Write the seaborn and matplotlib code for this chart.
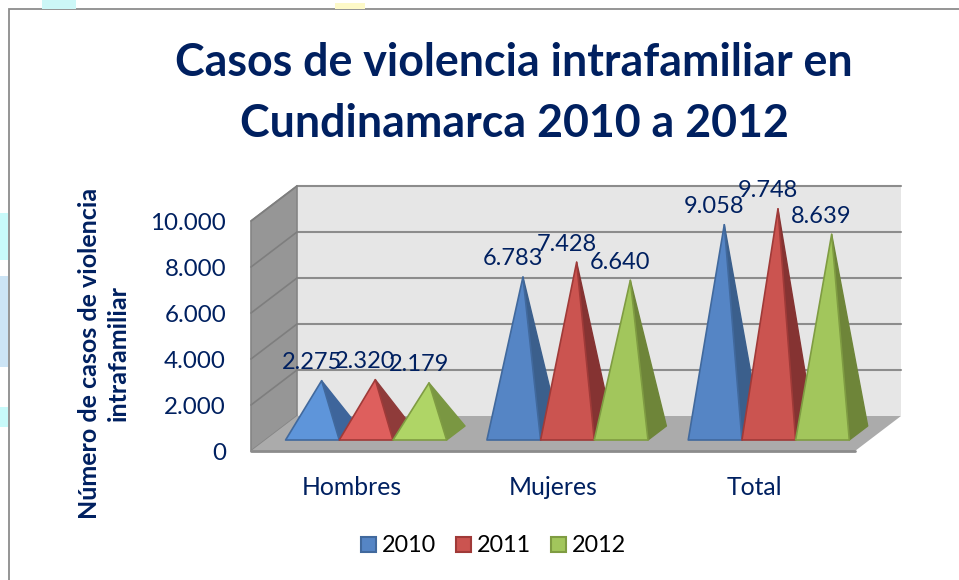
import matplotlib
matplotlib.use("Agg")
import matplotlib.pyplot as plt
import seaborn as sns
import pandas as pd
from matplotlib.patches import Polygon, Patch, Rectangle
from matplotlib.ticker import FuncFormatter

# Data
categories = ["Hombres", "Mujeres", "Total"]
years = ["2010", "2011", "2012"]
casos_2010 = [2275, 6783, 9058]
casos_2011 = [2320, 7428, 9748]
casos_2012 = [2179, 6640, 8639]
y_ticks = [0, 2000, 4000, 6000, 8000, 10000]

front = ["#5585C5", "#CB5450", "#A2C65C"]
side = ["#3B5F8C", "#853332", "#6E8539"]
edge = ["#41699D", "#A03A38", "#7F9C42"]
front_light = ["#5E95DA", "#DE5F5D", "#AFD566"]
side_light = ["#3E659B", "#8F3B3A", "#7A9742"]
navy = "#002060"

df = pd.DataFrame({
    "Grupo": categories * 3,
    "Anio": sum([[y] * 3 for y in years], []),
    "Casos": casos_2010 + casos_2011 + casos_2012,
})

W, H = 959, 580
sns.set_style("white")
plt.rcParams["font.family"] = ["Lato", "DejaVu Sans"]

fig = plt.figure(figsize=(W / 100, H / 100), dpi=100)
# front plane of the 3D box
ax = fig.add_axes([251 / W, 1 - 451 / H, (855 - 251) / W, (451 - 221) / H])

sns.barplot(data=df, x="Grupo", y="Casos", hue="Anio", order=categories,
            hue_order=years, width=0.8, gap=0, legend=False, ax=ax)
ax.set_xlim(-0.5, 2.5)
ax.set_ylim(0, 10000)

# depth of the box in data units
DX = 46 / (604 / 3)
DY = 35 / (230 / 10000)


def pr(x, v, d=0.0):
    return (x + d * DX, v + d * DY)


def poly(pts, color, ec="none", lw=0, z=1):
    ax.add_patch(Polygon(pts, closed=True, facecolor=color, edgecolor=ec,
                         linewidth=lw, clip_on=False, zorder=z, joinstyle="round"))


# walls and floor
x0, x1 = -0.5, 2.5
poly([pr(x0, 0, 1), pr(x1, 0, 1), pr(x1, 10000, 1), pr(x0, 10000, 1)], "#E6E6E6", z=1)
poly([pr(x0, 0), pr(x0, 10000), pr(x0, 10000, 1), pr(x0, 0, 1)], "#969696", "#858585", 1.2, z=2)
poly([pr(x0, 0), pr(x1, 0), pr(x1, 0, 1), pr(x0, 0, 1)], "#ABABAB", z=2)
for t in y_ticks[1:]:
    a, b, c = pr(x0, t), pr(x0, t, 1), pr(x1, t, 1)
    ax.plot([b[0], c[0]], [b[1], c[1]], color="#8C8C8C", lw=1.5, clip_on=False, zorder=1.5)
    ax.plot([a[0], b[0]], [a[1], b[1]], color="#7E7E7E", lw=1.2, clip_on=False, zorder=2.5)
ax.plot([pr(x0, 0)[0], pr(x1, 0)[0]], [0, 0], color="#8C8C8C", lw=2, clip_on=False, zorder=2.5)

# pyramids from the bars seaborn placed
d_front, d_back = 0.314, 0.714
for i, cont in enumerate(ax.containers):
    for j, bar in enumerate(cont):
        xa, w, v = bar.get_x(), bar.get_width(), bar.get_height()
        bar.set_visible(False)
        cf = front_light[i] if j == 0 else front[i]
        cs = side_light[i] if j == 0 else side[i]
        z = 3 + j + i * 0.1
        fl = pr(xa, 0, d_front)
        fr = pr(xa + w, 0, d_front)
        br = pr(xa + w, 0, d_back)
        apex = pr(xa + w / 2, v, (d_front + d_back) / 2)
        poly([fr, br, apex], cs, cs, 1, z=z)
        poly([fl, fr, apex], cf, edge[i], 1.2, z=z + 0.01)
        ax.annotate(f"{v:,.0f}".replace(",", "."), apex, xytext=(-7.2, 13),
                    textcoords="offset points", ha="center", va="center",
                    fontsize=17, color=navy, zorder=10, annotation_clip=False)

# axes text
ax.set_yticks(y_ticks)
ax.yaxis.set_major_formatter(FuncFormatter(lambda v, p: f"{v:,.0f}".replace(",", ".")))
ax.tick_params(axis="y", length=0, pad=18, labelsize=17.4, labelcolor=navy)
ax.tick_params(axis="x", length=0, pad=18, labelsize=17.8, labelcolor=navy)
ax.set_xlabel("")
ax.set_ylabel("")
sns.despine(ax=ax, left=True, bottom=True)
ax.patch.set_alpha(0)

fig.text(104 / W, 1 - 353 / H, "Número de casos de violencia\nintrafamiliar", rotation=90,
         ha="center", va="center", fontsize=18, fontweight="bold", color=navy,
         multialignment="center", linespacing=1.27)
fig.text(514 / W, 1 - 93.5 / H, "Casos de violencia intrafamiliar en\nCundinamarca 2010 a 2012",
         ha="center", va="center", fontsize=32.2, fontweight="bold", color=navy,
         multialignment="center", linespacing=1.54)

handles = [Patch(facecolor=front[i], edgecolor=edge[i], linewidth=1.5, label=years[i]) for i in range(3)]
fig.legend(handles=handles, loc="center", bbox_to_anchor=(493.5 / W, 1 - 546 / H), ncol=3,
           frameon=False, fontsize=16.8, handlelength=0.62, handleheight=0.6,
           handletextpad=0.25, columnspacing=0.88, labelcolor="black")

# frame and page remains behind the chart
fig.add_artist(Rectangle((8.5 / W, -0.01), 1.2, 1 - 9.5 / H + 0.01, transform=fig.transFigure,
                         fill=False, edgecolor="#8C8C8C", linewidth=1.3))
for px, py, pw, ph, col in [(42, 0, 34, 9, "#CCF7F7"), (335, 3, 30, 6, "#FDF9C8"),
                            (0, 213, 8, 47, "#C8FAFA"), (0, 276, 8, 91, "#CCE4F5"),
                            (0, 407, 8, 20, "#C8FAFA")]:
    fig.patches.append(Rectangle((px / W, 1 - (py + ph) / H), pw / W, ph / H,
                                 transform=fig.transFigure, facecolor=col, edgecolor="none"))

plt.savefig("out.png", dpi=100)
